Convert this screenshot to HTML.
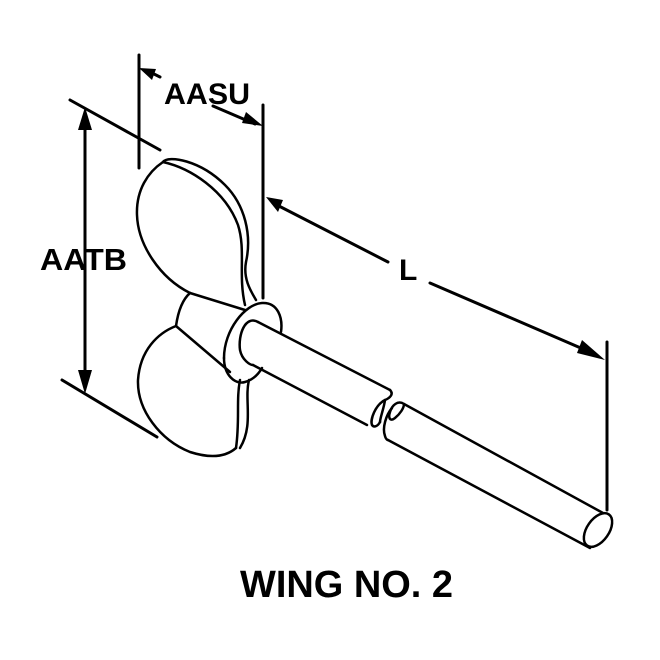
<!DOCTYPE html>
<html><head><meta charset="utf-8"><style>
html,body{margin:0;padding:0;background:#fff;}
svg{display:block;}
text{font-family:"Liberation Sans",Arial,sans-serif;font-weight:bold;fill:#000;}
</style></head><body>
<svg width="660" height="660" viewBox="0 0 660 660" xmlns="http://www.w3.org/2000/svg">
<g fill="none" stroke="#000" stroke-linecap="round" stroke-linejoin="round">
<g stroke-width="3">
<line x1="139" y1="55" x2="139" y2="168"/>
<line x1="263" y1="105" x2="263" y2="298"/>
<line x1="70" y1="100" x2="160" y2="150"/>
<line x1="62" y1="380" x2="157" y2="437"/>
<line x1="85" y1="115" x2="85" y2="385"/>
<line x1="607" y1="342" x2="607" y2="510"/>
<line x1="150" y1="72" x2="160" y2="77"/>
<line x1="213" y1="106" x2="255" y2="124"/>
<line x1="275" y1="204" x2="388" y2="262"/>
<line x1="430" y1="283" x2="590" y2="352"/>
</g>
<g stroke-width="2.5">
<path d="M163,162 C148,172 136,190 137,215 C138,245 160,278 190,293"/>
<path d="M163,162 C168,155 200,160 225,185 C245,205 252,235 246,262 C243,278 250,290 256,300"/>
<path d="M163,162 C190,168 225,190 238,225 C246,250 238,275 245,305"/>
<path d="M190,293 L245,310"/>
<path d="M190,293 C182,300 178,312 176,326"/>
<path d="M176,326 L230,372"/>
<path d="M176,326 C158,333 140,350 138,380 C137,410 160,440 190,452 C215,460 228,455 236,448"/>
<path d="M240,380 C236,400 240,420 236,448"/>
<path d="M249,380 C244,400 254,425 240,448"/>
<path d="M224,358 C224,330 245,304 262,303 C278,302 283,318 281,332"/>
<path d="M224,358 C224,375 235,385 245,382 C252,380 258,375 262,368"/>
<path d="M258,322 C245,315 238,335 240,350 C242,360 250,365 253,365"/>
</g>
<g stroke-width="2.5">
<line x1="258" y1="322" x2="390" y2="390"/>
<line x1="253" y1="365" x2="367" y2="425"/>
<path d="M390,390 C394,394 390,398 385,400 C375,405 370,420 372,425 C374,428 378,426 380,422"/>
<path d="M385,400 C384,408 380,418 380,422"/>
<line x1="404" y1="404" x2="603" y2="513"/>
<line x1="388" y1="440" x2="590" y2="548"/>
<path d="M404,404 C398,400 392,405 390,412 C388,418 390,422 395,418 C400,414 404,408 404,404"/>
<path d="M392,408 C386,415 382,428 385,436 C386,440 388,440 388,440"/>
<ellipse cx="598" cy="530" rx="11" ry="19" transform="rotate(35 598 530)"/>
</g>
</g>
<g fill="#000">
<polygon points="139,68 156,69 152,80"/>
<polygon points="263,126 246,112 242,123"/>
<polygon points="266,197 283,200 278,212"/>
<polygon points="605,360 582,340 577,353"/>
<polygon points="85,107 78,130 92,130"/>
<polygon points="85,394 78,370 92,370"/>
</g>
<text x="164" y="104" font-size="30" textLength="86" lengthAdjust="spacingAndGlyphs">AASU</text>
<text x="40" y="270" font-size="31" textLength="87" lengthAdjust="spacingAndGlyphs">AATB</text>
<text x="399" y="280" font-size="30">L</text>
<text x="240" y="597" font-size="38" textLength="213" lengthAdjust="spacingAndGlyphs">WING NO. 2</text>
</svg>
</body></html>
